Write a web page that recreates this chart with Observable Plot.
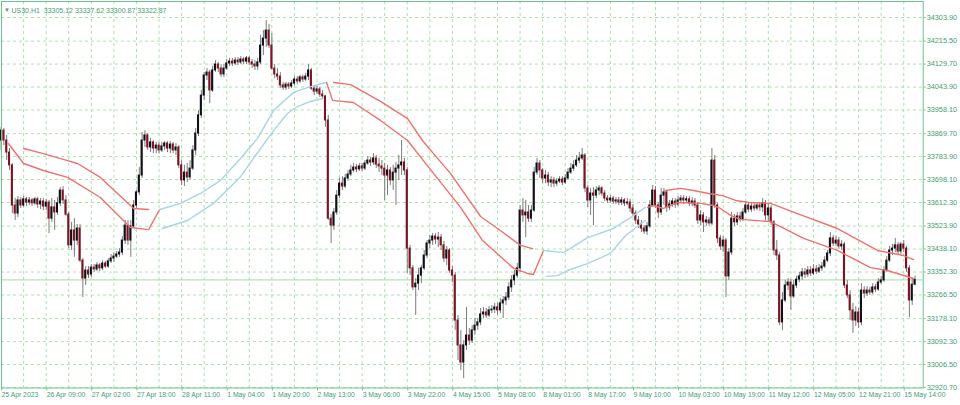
<!DOCTYPE html>
<html><head><meta charset="utf-8">
<script src="https://cdn.jsdelivr.net/npm/d3@7"></script>
<script src="https://cdn.jsdelivr.net/npm/@observablehq/plot@0.6"></script>
<style>
html,body{margin:0;padding:0;background:#fff;}
#chart{width:960px;height:405px;overflow:hidden}
</style></head><body><div id="chart"></div>
<script>
const symbol = "US30,H1";
const timeLabels = ["25 Apr 2023","26 Apr 09:00","27 Apr 02:00","27 Apr 18:00","28 Apr 11:00","1 May 04:00","1 May 20:00","2 May 13:00","3 May 06:00","3 May 22:00","4 May 15:00","5 May 08:00","8 May 01:00","8 May 17:00","9 May 10:00","10 May 03:00","10 May 19:00","11 May 12:00","12 May 05:00","12 May 21:00","15 May 14:00"];
const priceTicks = [34303.9,34215.5,34129.7,34043.9,33958.1,33869.7,33783.9,33698.1,33612.3,33523.9,33438.1,33352.3,33266.5,33178.1,33092.3,33006.5,32920.7];

const opens = [
33844,33881,33844,33799,33751,33601,33571,33620,33601,33624,
33612,33620,33609,33624,33605,33616,33597,33612,33552,33594,
33575,33609,33657,33620,33567,33452,33508,33470,33515,33395,
33328,33358,33343,33369,33362,33377,33366,33384,33373,33392,
33403,33410,33418,33425,33470,33526,33470,33523,33601,33650,
33713,33844,33863,33818,33837,33814,33825,33807,33822,33833,
33814,33829,33807,33818,33751,33695,33724,33706,33739,33807,
33870,33938,34012,34087,34098,34031,34106,34128,34113,34091,
34113,34132,34139,34132,34143,34136,34147,34139,34151,34136,
34128,34121,34136,34199,34225,34255,34199,34113,34091,34083,
34050,34042,34053,34046,34057,34072,34065,34080,34072,34083,
34106,34038,34027,34035,34016,34009,33919,33552,33526,33575,
33638,33683,33672,33702,33717,33732,33743,33736,33747,33739,
33758,33769,33762,33777,33754,33747,33739,33713,33732,33695,
33724,33739,33751,33762,33732,33440,33366,33295,33309,33339,
33366,33414,33459,33470,33485,33474,33481,33452,33403,33433,
33358,33339,33171,33078,33014,33078,33115,33096,33134,33152,
33164,33194,33201,33190,33209,33212,33220,33209,33235,33246,
33257,33295,33321,33339,33366,33582,33564,33575,33552,33582,
33724,33758,33732,33702,33713,33687,33695,33683,33691,33698,
33687,33702,33724,33739,33751,33769,33777,33788,33665,33620,
33646,33638,33657,33665,33646,33627,33620,33627,33616,33620,
33612,33620,33609,33612,33590,33571,33545,33530,33515,33504,
33523,33601,33657,33601,33575,33638,33650,33594,33605,33616,
33605,33620,33627,33620,33624,33609,33616,33601,33545,33564,
33538,33545,33534,33769,33601,33478,33448,33470,33336,33425,
33552,33538,33560,33549,33575,33601,33586,33597,33590,33601,
33594,33609,33564,33590,33538,33433,33414,33164,33246,33302,
33313,33261,33302,33324,33336,33351,33343,33358,33347,33362,
33354,33366,33373,33395,33422,33478,33459,33470,33448,33455,
33302,33265,33209,33171,33201,33164,33283,33272,33283,33276,
33295,33287,33313,33321,33358,33395,33433,33440,33452,33429,
33455,33440,33366,33246,33305.12];

const highs = [
33893,33889,33863,33814,33758,33627,33635,33631,33635,33631,
33631,33627,33631,33631,33627,33627,33624,33620,33627,33620,
33631,33668,33672,33638,33575,33538,33552,33530,33530,33403,
33373,33373,33380,33380,33388,33384,33395,33392,33403,33418,
33425,33429,33440,33485,33545,33545,33545,33620,33657,33743,
33874,33881,33870,33852,33844,33837,33837,33837,33840,33840,
33840,33837,33833,33825,33769,33751,33758,33769,33825,33889,
33956,34031,34098,34113,34106,34121,34143,34136,34128,34128,
34147,34151,34151,34154,34154,34158,34154,34158,34158,34147,
34143,34151,34237,34255,34293,34278,34244,34128,34113,34098,
34061,34061,34061,34068,34083,34083,34087,34087,34095,34128,
34113,34046,34046,34042,34031,34012,33938,33567,33590,33657,
33702,33709,33717,33732,33751,33758,33754,33758,33758,33769,
33784,33781,33795,33788,33777,33769,33758,33751,33743,33751,
33762,33788,33844,33777,33743,33452,33377,33328,33366,33377,
33433,33470,33489,33496,33496,33500,33493,33467,33448,33440,
33373,33351,33190,33134,33096,33220,33141,33152,33179,33179,
33216,33220,33216,33223,33227,33235,33235,33253,33261,33276,
33313,33339,33358,33384,33601,33627,33620,33601,33601,33743,
33777,33769,33739,33732,33724,33709,33706,33702,33709,33709,
33717,33739,33758,33769,33788,33799,33814,33795,33676,33665,
33668,33672,33676,33672,33657,33638,33638,33635,33631,33631,
33631,33627,33627,33624,33605,33582,33560,33545,33526,33538,
33620,33676,33672,33612,33665,33665,33657,33620,33627,33627,
33635,33638,33638,33635,33635,33631,33627,33612,33582,33575,
33560,33556,33814,33788,33609,33489,33485,33478,33440,33575,
33567,33575,33575,33590,33616,33609,33609,33609,33612,33612,
33627,33620,33609,33601,33545,33470,33425,33276,33321,33328,
33324,33321,33336,33351,33366,33366,33373,33373,33380,33377,
33380,33388,33410,33433,33500,33489,33485,33481,33470,33463,
33321,33283,33235,33223,33216,33309,33298,33298,33295,33309,
33306,33328,33336,33373,33410,33448,33455,33478,33463,33463,
33470,33448,33377,33328,33337.62];

const lows = [
33807,33825,33769,33732,33571,33545,33556,33590,33594,33597,
33601,33597,33601,33590,33586,33582,33582,33496,33538,33508,
33564,33597,33605,33560,33440,33433,33407,33452,33388,33257,
33302,33328,33332,33351,33354,33354,33358,33366,33366,33384,
33388,33403,33407,33414,33455,33452,33407,33515,33590,33638,
33702,33818,33807,33799,33795,33795,33795,33799,33807,33799,
33795,33795,33788,33739,33676,33672,33687,33695,33732,33788,
33859,33926,33994,34068,33982,34024,34098,34098,34080,34080,
34106,34121,34121,34124,34124,34128,34128,34128,34124,34113,
34106,34106,34128,34162,34192,34188,34106,34076,34068,34038,
34031,34031,34035,34038,34050,34053,34057,34061,34065,34068,
34031,34012,34016,34005,33997,33893,33545,33459,33508,33564,
33627,33657,33665,33691,33709,33724,33724,33728,33728,33732,
33751,33747,33751,33739,33724,33713,33620,33638,33676,33657,
33601,33695,33713,33713,33347,33339,33283,33190,33283,33309,
33358,33403,33440,33452,33455,33444,33433,33388,33377,33347,
33313,33134,33022,32984,32954,33059,33078,33085,33115,33134,
33152,33179,33179,33182,33197,33197,33190,33197,33179,33227,
33246,33276,33302,33328,33351,33538,33481,33538,33538,33575,
33713,33702,33683,33683,33672,33668,33668,33672,33683,33676,
33680,33695,33717,33728,33743,33758,33769,33650,33594,33564,
33526,33627,33638,33635,33616,33609,33609,33605,33605,33601,
33601,33597,33601,33575,33560,33530,33515,33500,33493,33489,
33515,33594,33590,33552,33564,33601,33575,33582,33594,33590,
33597,33609,33605,33609,33597,33597,33590,33530,33526,33500,
33523,33523,33526,33590,33459,33433,33425,33257,33321,33414,
33523,33526,33538,33541,33567,33575,33575,33579,33582,33579,
33575,33545,33538,33526,33414,33395,33152,33134,33238,33283,
33209,33253,33291,33313,33321,33328,33332,33336,33339,33343,
33347,33354,33366,33388,33410,33448,33448,33437,33433,33291,
33253,33171,33123,33149,33141,33152,33253,33261,33265,33268,
33276,33280,33306,33313,33351,33388,33414,33425,33418,33418,
33425,33351,33182,33227,33300.87];

const closes = [
33881,33844,33799,33751,33601,33571,33620,33601,33624,33612,
33620,33609,33624,33605,33616,33597,33612,33552,33594,33575,
33609,33657,33620,33567,33452,33508,33470,33515,33395,33328,
33358,33343,33369,33362,33377,33366,33384,33373,33392,33403,
33410,33418,33425,33470,33526,33470,33523,33601,33650,33713,
33844,33863,33818,33837,33814,33825,33807,33822,33833,33814,
33829,33807,33818,33751,33695,33724,33706,33739,33807,33870,
33938,34012,34087,34098,34031,34106,34128,34113,34091,34113,
34132,34139,34132,34143,34136,34147,34139,34151,34136,34128,
34121,34136,34199,34225,34255,34199,34113,34091,34083,34050,
34042,34053,34046,34057,34072,34065,34080,34072,34083,34106,
34038,34027,34035,34016,34009,33919,33552,33526,33575,33638,
33683,33672,33702,33717,33732,33743,33736,33747,33739,33758,
33769,33762,33777,33754,33747,33739,33713,33732,33695,33724,
33739,33751,33762,33732,33440,33366,33295,33309,33339,33366,
33414,33459,33470,33485,33474,33481,33452,33403,33433,33358,
33339,33171,33078,33014,33078,33115,33096,33134,33152,33164,
33194,33201,33190,33209,33212,33220,33209,33235,33246,33257,
33295,33321,33339,33366,33582,33564,33575,33552,33582,33724,
33758,33732,33702,33713,33687,33695,33683,33691,33698,33687,
33702,33724,33739,33751,33769,33777,33788,33665,33620,33646,
33638,33657,33665,33646,33627,33620,33627,33616,33620,33612,
33620,33609,33612,33590,33571,33545,33530,33515,33504,33523,
33601,33657,33601,33575,33638,33650,33594,33605,33616,33605,
33620,33627,33620,33624,33609,33616,33601,33545,33564,33538,
33545,33534,33769,33601,33478,33448,33470,33336,33425,33552,
33538,33560,33549,33575,33601,33586,33597,33590,33601,33594,
33609,33564,33590,33538,33433,33414,33164,33246,33302,33313,
33261,33302,33324,33336,33351,33343,33358,33347,33362,33354,
33366,33373,33395,33422,33478,33459,33470,33448,33455,33302,
33265,33209,33171,33201,33164,33283,33272,33283,33276,33295,
33287,33313,33321,33358,33395,33433,33440,33452,33429,33455,
33440,33366,33246,33305.12,33322.87];

// envelope indicator lines (bar position, price), one array per line piece
const envNames = ["R1a","R1b","B1a","B1b","R2a","R2b","B2a","B2b","R3a","R3b"];
const envTrend = ["down","down","up","up","down","down","up","up","down","down"];
const envIdx = [
 [8.0,15.0,23.6,27.1,35.2,47.0,52.3],
 [2.6,8.0,15.0,23.6,35.2,45.9,52.3,56.2],
 [56.2,63.6,70.7,77.8,84.9,90.9,96.6,103.7,108.6,115.0],
 [57.2,66.1,75.3,84.9,90.2,96.6,101.5,105.1,109.7,114.0],
 [117.9,123.9,134.5,144.1,149.4,153.3,159.3,170.0,176.0,184.1,188.4],
 [115.4,117.5,124.9,134.5,144.1,153.3,162.9,170.7,181.7,186.6,188.7,192.3],
 [192.3,199.4,207.9,217.1,223.1,228.4],
 [193.4,197.3,200.8,207.9,216.0,221.4,228.4],
 [235.5,240.9,245.5,250.8,255.7,260.4,265.7,272.8,282.3,296.5,310.7,319.9,323.5],
 [229.2,231.3,234.8,239.8,248.0,252.5,255.0,258.6,262.1,272.8,284.5,296.5,308.2,314.2,323.5]
];
const envVal = [
 [33814,33795,33769,33758,33706,33590,33586],
 [33833,33758,33732,33706,33631,33519,33511,33586],
 [33586,33609,33646,33695,33777,33852,33956,34024,34042,34061],
 [33515,33545,33609,33709,33788,33881,33945,33971,33990,34001],
 [34061,34053,33990,33926,33844,33795,33721,33560,33515,33452,33440],
 [34061,33994,33986,33919,33844,33721,33594,33470,33366,33347,33343,33433],
 [33433,33425,33481,33515,33556,33594],
 [33336,33339,33358,33384,33422,33489,33545],
 [33657,33665,33657,33646,33638,33620,33612,33609,33571,33515,33433,33414,33399],
 [33594,33601,33590,33612,33609,33601,33590,33564,33549,33541,33478,33433,33369,33358,33328]
];

const bars = closes.map((c, i) => ({i, o: opens[i], h: highs[i], l: lows[i], c}));
const env = envNames.flatMap((name, k) => envIdx[k].map((x, j) => ({x, y: envVal[k][j], name, trend: envTrend[k]})));
const last = bars[bars.length - 1];
const fmt = v => v.toFixed(2);
const tickIdx = timeLabels.map((_, k) => k * 16);

const textColor = "#3f9e72";
const frameColor = "#6cc490";
const gridColor = "#ade0ad";
const font = "'Liberation Sans',Arial,sans-serif";

const plot = Plot.plot({
  width: 960, height: 405,
  marginLeft: 1, marginRight: 37.3, marginTop: 1, marginBottom: 17.5,
  x: {type: "linear", domain: [0.156, 326.9]},
  y: {type: "linear", domain: [32918.8, 34363.7]},
  style: {background: "#ffffff", fontFamily: font, fontSize: "7.4px", overflow: "visible"},
  marks: [
    Plot.gridY(priceTicks, {stroke: gridColor, strokeOpacity: 1, strokeDasharray: "3,3"}),
    Plot.gridX(d3.range(8, 321, 8), {stroke: gridColor, strokeOpacity: 1, strokeDasharray: "3,3"}),
    Plot.ruleY([last.c], {stroke: "#a3dca3", strokeWidth: 1}),
    Plot.ruleX(bars, {x: "i", y1: "l", y2: "h", stroke: "#7c7c7c", strokeWidth: 1}),
    Plot.rect(bars, {x1: d => d.i - 0.37, x2: d => d.i + 0.37, y1: "o", y2: "c",
      fill: d => d.c >= d.o ? "#101018" : "#7d1322", insetTop: -0.5, insetBottom: -0.5}),
    Plot.line(env, {x: "x", y: "y", z: "name", stroke: d => d.trend === "down" ? "#ee7070" : "#a9d4e4", strokeWidth: 1.4}),
    Plot.frame({stroke: frameColor}),
    Plot.axisY(priceTicks, {anchor: "right", tickSize: 2, tickPadding: 1.5, tickFormat: fmt, stroke: frameColor, fill: textColor, fontSize: 7.3}),
    Plot.axisX(tickIdx, {anchor: "bottom", tickSize: 3, tickPadding: 1.5, tickFormat: d => timeLabels[d / 16], textAnchor: "start", dx: 0.5, stroke: frameColor, fill: textColor, fontSize: 6.8}),
    Plot.text(["▼"], {frameAnchor: "top-left", dx: 2.5, dy: 6, fontSize: 6, fill: textColor, textAnchor: "start"}),
    Plot.text([`${symbol}  ${fmt(last.o)} ${fmt(last.h)} ${fmt(last.l)} ${fmt(last.c)}`], {frameAnchor: "top-left", dx: 10, dy: 6.5, textAnchor: "start", fill: textColor, fontSize: 7}),
    Plot.text([last.c], {y: d => d, frameAnchor: "right", dx: 3.5, textAnchor: "start", text: d => fmt(d), fill: "#ffffff", fontSize: 7.3, ariaLabel: "price-tag"})
  ]
});
document.getElementById("chart").append(plot);

// green background box behind the current price label
const tag = plot.querySelector('g[aria-label="price-tag"]');
if (tag) {
  const t = tag.querySelector("text");
  const bb = t.getBBox();
  const r = document.createElementNS("http://www.w3.org/2000/svg", "rect");
  r.setAttribute("x", bb.x - 2);
  r.setAttribute("y", bb.y + 0.3);
  r.setAttribute("width", bb.width + 4);
  r.setAttribute("height", bb.height - 0.6);
  r.setAttribute("fill", "#2e9d60");
  if (t.getAttribute("transform")) r.setAttribute("transform", t.getAttribute("transform"));
  tag.insertBefore(r, t);
}
</script>
</body></html>
